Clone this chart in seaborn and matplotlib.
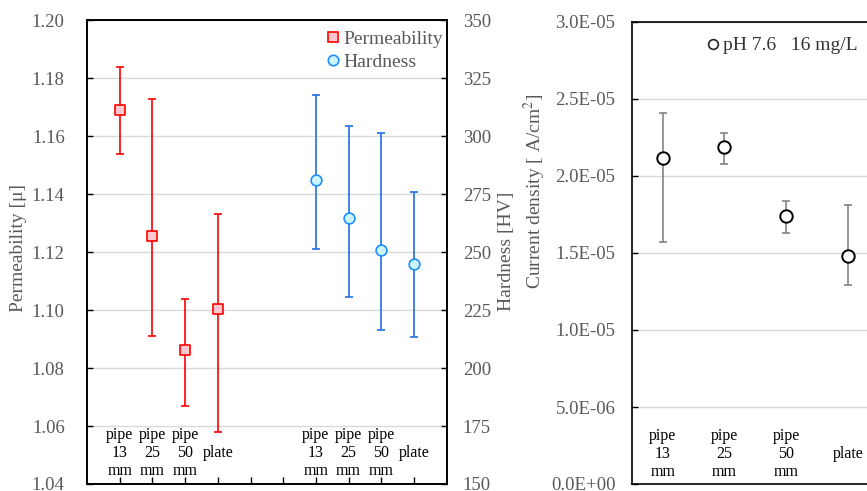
import numpy as np
import pandas as pd
import matplotlib
matplotlib.use("Agg")
import matplotlib.pyplot as plt
import seaborn as sns
from matplotlib.lines import Line2D
from matplotlib.ticker import FuncFormatter, MultipleLocator

# ---------------- data ----------------
categories = ["pipe\n13\nmm", "pipe\n25\nmm", "pipe\n50\nmm", "plate"]

perm_mean = [1.169, 1.1257, 1.0863, 1.1005]
perm_low = [1.154, 1.091, 1.067, 1.058]
perm_high = [1.184, 1.173, 1.104, 1.133]

hard_mean = [281.3, 264.6, 250.9, 244.8]
hard_low = [251.2, 230.8, 216.6, 213.4]
hard_high = [317.9, 304.5, 301.3, 275.9]

cd_mean = [2.12e-5, 2.19e-5, 1.74e-5, 1.48e-5]
cd_low = [1.57e-5, 2.08e-5, 1.63e-5, 1.29e-5]
cd_high = [2.41e-5, 2.28e-5, 1.84e-5, 1.81e-5]

legend_labels = ["Permeability", "Hardness"]
cd_legend = "pH 7.6   16 mg/L"

# ---------------- style ----------------
sns.set_style("white")
plt.rcParams["font.family"] = ["Liberation Serif", "DejaVu Serif"]
plt.rcParams["mathtext.fontset"] = "stix"

GRAY = "#595959"
GRID = "#d9d9d9"

fig = plt.figure(figsize=(8.67, 4.91), dpi=100)
W, H = 867.0, 491.0

pos_perm = np.arange(1, len(categories) + 1)
pos_hard = pos_perm + 6
pos_cd = np.arange(1, len(categories) + 1)

df_perm = pd.DataFrame({"x": pos_perm, "y": perm_mean})
df_hard = pd.DataFrame({"x": pos_hard, "y": hard_mean})
df_cd = pd.DataFrame({"x": pos_cd, "y": cd_mean})

# ---------------- left panel ----------------
ax1 = fig.add_axes([87 / W, 7 / H, 359.7 / W, 463.7 / H])
ax2 = ax1.twinx()

ax1.set_xlim(0, 11)
ax1.set_ylim(1.04, 1.20)
ax2.set_ylim(150, 350)
ax1.yaxis.set_major_locator(MultipleLocator(0.02))
ax2.yaxis.set_major_locator(MultipleLocator(25))
ax1.yaxis.set_major_formatter(FuncFormatter(lambda v, p: f"{v:.2f}"))
ax1.yaxis.grid(True, color=GRID, lw=1)
ax1.xaxis.grid(False)
ax1.set_axisbelow(True)

pm = np.array(perm_mean)
ax1.errorbar(pos_perm, pm, yerr=[pm - np.array(perm_low), np.array(perm_high) - pm],
             fmt="none", ecolor="#FF0000", elinewidth=1.2, capsize=3, capthick=1.2, zorder=2)
sns.scatterplot(data=df_perm, x="x", y="y", ax=ax1, marker="s", s=48,
                color="#FFC7CE", edgecolor="#FF0000", linewidth=1.2, zorder=3, legend=False)

hm = np.array(hard_mean)
ax2.errorbar(pos_hard, hm, yerr=[hm - np.array(hard_low), np.array(hard_high) - hm],
             fmt="none", ecolor="#1F6FE5", elinewidth=1.2, capsize=3, capthick=1.2, zorder=2)
sns.scatterplot(data=df_hard, x="x", y="y", ax=ax2, marker="o", s=60,
                color="#CCF6FF", edgecolor="#1F8FFF", linewidth=1.2, zorder=3, legend=False)

ax1.set_xticks(np.arange(1, 11))
ax1.set_xticklabels([])
ax1.set_xlabel("")
ax1.set_ylabel("")
ax2.set_xlabel("")
ax2.set_ylabel("")
ax1.tick_params(axis="x", direction="in", length=5, width=1, color="black", bottom=True)
ax1.tick_params(axis="y", direction="in", length=4, width=1, color="black", left=True,
                pad=16, labelsize=13.5, labelcolor=GRAY)
ax2.tick_params(axis="y", direction="in", length=4, width=1, color="black", right=True,
                pad=11.5, labelsize=13.5, labelcolor=GRAY)
for ax in (ax1, ax2):
    for s in ax.spines.values():
        s.set_color("black")
        s.set_linewidth(1.2)

tr = ax1.get_xaxis_transform()
for x, c in zip(pos_perm, categories):
    ax1.text(x, 0.067, c, transform=tr, ha="center", va="center", fontsize=11.5,
             linespacing=1.2, color="black")
for x, c in zip(pos_hard, categories):
    ax1.text(x, 0.067, c, transform=tr, ha="center", va="center", fontsize=11.5,
             linespacing=1.2, color="black")

handles = [
    Line2D([], [], marker="s", ls="none", mfc="#FFC7CE", mec="#FF0000", ms=7, mew=1.2,
           label=legend_labels[0]),
    Line2D([], [], marker="o", ls="none", mfc="#CCF6FF", mec="#1F8FFF", ms=7.5, mew=1.2,
           label=legend_labels[1]),
]
ax2.legend(handles=handles, loc="upper right", bbox_to_anchor=(1.011, 0.995),
           frameon=False, fontsize=14, handletextpad=0.05, handlelength=1.0,
           borderaxespad=0, labelspacing=0.27, labelcolor=GRAY)

# ---------------- right panel ----------------
ax3 = fig.add_axes([632 / W, 7 / H, 246.5 / W, 462 / H])
ax3.set_xlim(0.5, 4.5)
ax3.set_ylim(0, 3e-5)
ax3.yaxis.set_major_locator(MultipleLocator(5e-6))
ax3.yaxis.set_major_formatter(FuncFormatter(lambda v, p: f"{v:.1E}"))
ax3.yaxis.grid(True, color=GRID, lw=1)
ax3.xaxis.grid(False)
ax3.set_axisbelow(True)

cm = np.array(cd_mean)
ax3.errorbar(pos_cd, cm, yerr=[cm - np.array(cd_low), np.array(cd_high) - cm],
             fmt="none", ecolor="#7a7a7a", elinewidth=1.1, capsize=3, capthick=1.1, zorder=2)
sns.scatterplot(data=df_cd, x="x", y="y", ax=ax3, marker="o", s=80,
                color="white", edgecolor="black", linewidth=1.4, zorder=3, legend=False)
ax3.set_xlabel("")
ax3.set_ylabel("")
ax3.set_xticks([])
ax3.tick_params(axis="y", direction="in", length=4, width=1, color="black", left=True,
                pad=12, labelsize=13.5, labelcolor=GRAY)
for s in ax3.spines.values():
    s.set_color("black")
    s.set_linewidth(1.2)

tr3 = ax3.get_xaxis_transform()
for x, c in zip(pos_cd, categories):
    ax3.text(x, 0.065, c, transform=tr3, ha="center", va="center", fontsize=11.5,
             linespacing=1.2, color="black")

h3 = [Line2D([], [], marker="o", ls="none", mfc="white", mec="#222222", ms=7, mew=1.2,
             label=cd_legend)]
ax3.legend(handles=h3, loc="center", bbox_to_anchor=(0.602, 0.949), frameon=False,
           fontsize=14, handletextpad=0.05, handlelength=1.0, labelcolor="#333333")

# ---------------- axis titles ----------------
fig.text(19 / W, 1 - 247.5 / H, "Permeability [μ]", rotation=90, ha="center", va="center",
         fontsize=14, color=GRAY)
fig.text(506 / W, 1 - 251.5 / H, "Hardness [HV]", rotation=90, ha="center", va="center",
         fontsize=14, color=GRAY)
fig.text(535 / W, 1 - 191 / H, "Current density [ A/cm$^2$]", rotation=90, ha="center",
         va="center", fontsize=14, color=GRAY)

fig.savefig("out.png", dpi=100)
